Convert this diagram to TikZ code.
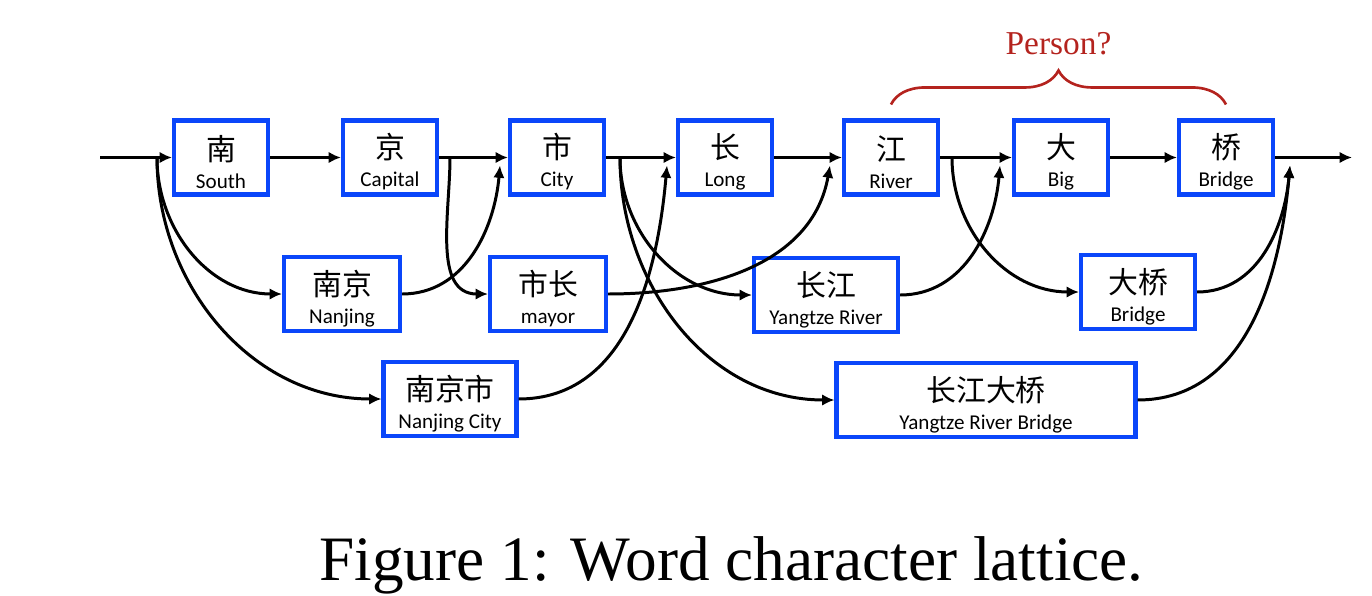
\documentclass[tikz,border=0pt]{standalone}
\usepackage{fontspec}
\setmainfont{Liberation Serif}
\newfontfamily\cjk{Noto Sans CJK SC}
\newfontfamily\lbl{Carlito}
\usetikzlibrary{arrows.meta, positioning, decorations.pathreplacing}

\definecolor{boxblue}{RGB}{10,70,250}
\definecolor{bracered}{RGB}{180,35,30}

\newcommand{\hanzi}[1]{{\fontsize{17}{18}\selectfont\cjk\rule{0pt}{19.5pt}#1}}

\tikzset{
  word/.style={draw=boxblue, line width=2.3pt, fill=white, inner sep=0pt, minimum height=1.48cm, align=center, font=\fontsize{12}{13}\selectfont\lbl},
  char/.style={word, minimum width=1.88cm},
}

\begin{document}
\begin{tikzpicture}[>={Latex[length=7pt,width=6.5pt]}, line width=1.7pt]
    \useasboundingbox (0,0) rectangle (27.44,-11.92);

    % Characters
    \node [char] (nan) at (4.42,-3.15) {\hanzi{南}\\[3pt]South};
    \node [char] (jing) at (7.80,-3.15) {\hanzi{京}\\[3pt]Capital};
    \node [char] (shi) at (11.14,-3.15) {\hanzi{市}\\[3pt]City};
    \node [char] (chang) at (14.50,-3.15) {\hanzi{长}\\[3pt]Long};
    \node [char] (jiang) at (17.82,-3.15) {\hanzi{江}\\[3pt]River};
    \node [char] (da) at (21.22,-3.15) {\hanzi{大}\\[3pt]Big};
    \node [char] (qiao) at (24.52,-3.15) {\hanzi{桥}\\[3pt]Bridge};

    % Words
    \node [word, minimum width=2.32cm] (nanjing) at (6.84,-5.88) {\hanzi{南京}\\[3pt]Nanjing};
    \node [word, minimum width=2.32cm] (shizhang) at (10.96,-5.88) {\hanzi{市长}\\[3pt]mayor};
    \node [word, minimum width=2.88cm] (changjiang) at (16.52,-5.90) {\hanzi{长江}\\[3pt]Yangtze River};
    \node [word, minimum width=2.28cm] (daqiao) at (22.76,-5.84) {\hanzi{大桥}\\[3pt]Bridge};
    \node [word, minimum width=2.66cm] (nanjingshi) at (9.00,-7.98) {\hanzi{南京市}\\[3pt]Nanjing City};
    \node [word, minimum width=5.98cm] (changjiangdaqiao) at (19.72,-8.00) {\hanzi{长江大桥}\\[3pt]Yangtze River Bridge};

    % Branch and join points
    \coordinate (in) at (2.0,-3.15);
    \coordinate (out) at (27.04,-3.15);
    \coordinate (b0) at (3.14,-3.15);
    \coordinate (bjing) at (9.0,-3.15);
    \coordinate (bshi) at (12.4,-3.15);
    \coordinate (bjiang) at (19.04,-3.15);
    \coordinate (jshi) at (10.0,-3.31);
    \coordinate (jchang) at (13.34,-3.31);
    \coordinate (jjiang) at (16.6,-3.31);
    \coordinate (jda) at (20.0,-3.31);
    \coordinate (jout) at (25.8,-3.31);

    % Character chain
    \draw [->] (in) -- (nan);
    \draw [->] (nan) -- (jing);
    \draw [->] (jing) -- (shi);
    \draw [->] (shi) -- (chang);
    \draw [->] (chang) -- (jiang);
    \draw [->] (jiang) -- (da);
    \draw [->] (da) -- (qiao);
    \draw [->] (qiao) -- (out);

    % Word paths
    \draw [->] (b0) to[out=-90, in=180] (nanjing.west);
    \draw [->] (b0) to[out=-90, in=180] (nanjingshi.west);
    \draw [->] (nanjing.east) to[out=0, in=-95] (jshi);
    \draw [->] (bjing) to[out=-90, in=180] (shizhang.west);
    \draw [->] (nanjingshi.east) to[out=0, in=-95] (jchang);
    \draw [->] (shizhang.east) to[out=0, in=-100] (jjiang);
    \draw [->] (bshi) to[out=-90, in=180] (changjiang.west);
    \draw [->] (bshi) to[out=-90, in=180] (changjiangdaqiao.west);
    \draw [->] (changjiang.east) to[out=0, in=-95] (jda);
    \draw [->] (bjiang) to[out=-90, in=180] (daqiao.west);
    \draw [->] (daqiao.east) to[out=0, in=-95] (jout);
    \draw [->] (changjiangdaqiao.east) to[out=0, in=-95] (jout);

    % Brace
    \draw [bracered, line width=1.5pt, decorate, decoration={brace, amplitude=0.68cm}]
        ([yshift=0.28cm]jiang.north) -- ([yshift=0.28cm]qiao.north)
        node [midway, above=0.96cm, inner sep=0pt, font=\fontsize{19}{22}\selectfont] (person) {Person?};

    % Caption
    \node [anchor=base, font=\fontsize{36}{40}\selectfont] (caption) at (14.63,-11.6) {Figure 1: Word character lattice.};
\end{tikzpicture}
\end{document}
